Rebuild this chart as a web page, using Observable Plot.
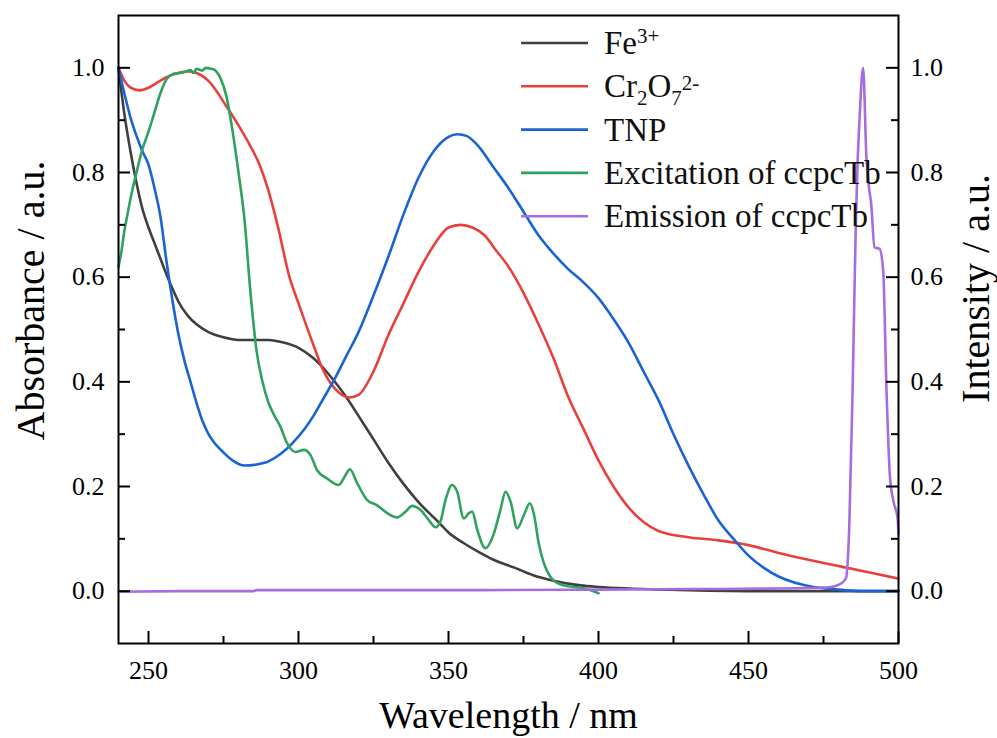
<!DOCTYPE html>
<html><head><meta charset="utf-8">
<script src="https://cdn.jsdelivr.net/npm/d3@7"></script>
<script src="https://cdn.jsdelivr.net/npm/@observablehq/plot@0.6"></script>
<style>
body{margin:0;background:#fff}
svg text{font-family:"Liberation Serif","Times New Roman",serif !important;}
</style>
</head><body><div id="chart"></div>
<script>
// ---- data ----
const feWl  = [240,242,244,246,248,250,252,254,256,258,260,263,266,270,275,280,285,290,295,300,305,310,316,320,325,330,335,340,347,350,355,360,365,372,378,385,394,400,410,430,460,500];
const feAbs = [1.0,0.91,0.84,0.78,0.73,0.695,0.665,0.635,0.605,0.578,0.553,0.527,0.51,0.495,0.485,0.48,0.48,0.48,0.475,0.465,0.445,0.415,0.37,0.335,0.29,0.245,0.205,0.17,0.13,0.112,0.092,0.075,0.06,0.045,0.031,0.02,0.011,0.008,0.005,0.002,0.0,0.0];

const crWl  = [240,242,244,247,250,253,256,260,263,266,270,276,280,284,287,290,293,297,300,305,308,312,317,320,325,330,335,340,345,350,354,358,362,366,370,375,380,385,390,395,400,405,410,415,420,430,440,450,460,470,480,490,500];
const crAbs = [1.0,0.975,0.962,0.957,0.962,0.972,0.982,0.99,0.993,0.99,0.975,0.926,0.89,0.85,0.815,0.765,0.7,0.6,0.55,0.47,0.425,0.388,0.37,0.375,0.42,0.49,0.55,0.61,0.66,0.695,0.7,0.695,0.68,0.65,0.62,0.57,0.51,0.445,0.37,0.31,0.25,0.2,0.16,0.132,0.115,0.103,0.097,0.088,0.073,0.06,0.048,0.036,0.024];

const tnpWl  = [240,242,244,246,248,250,252,254,256,258,260,262,264,266,268,270,272,275,278,282,286,290,294,298,302,305,308,312,316,320,325,330,335,340,345,350,353,356,360,365,370,375,380,385,390,395,400,405,410,415,420,425,430,435,440,445,450,455,460,465,470,480,490,500];
const tnpAbs = [1.0,0.95,0.905,0.87,0.84,0.815,0.77,0.715,0.63,0.555,0.49,0.44,0.4,0.36,0.325,0.3,0.283,0.265,0.25,0.24,0.242,0.248,0.262,0.283,0.31,0.335,0.365,0.405,0.45,0.495,0.565,0.64,0.72,0.79,0.84,0.868,0.873,0.87,0.85,0.81,0.77,0.725,0.68,0.645,0.615,0.59,0.56,0.52,0.475,0.42,0.365,0.3,0.24,0.185,0.135,0.1,0.068,0.045,0.028,0.017,0.01,0.003,0.0,0.0];

const excWl  = [240,241,242,243,244,246,248,250,252,254,256,258,260,262,264,265,266,268,269,271,272,274,276,278,280,282,284,286,288,290,292,294,296,299,301.8,304,306.2,309.6,313.4,315.7,317.1,319.6,322.9,326.2,329.6,332.9,335.7,337.9,340.7,343.4,345.7,347.3,349,351.2,352.9,355.1,356.8,357.9,359.6,362.3,365.1,367.3,369,370.7,372.9,375.1,377.1,378.4,380.1,381.8,384,387.3,391.8,394,400];
const excInt = [0.62,0.65,0.69,0.72,0.75,0.8,0.845,0.878,0.915,0.952,0.978,0.988,0.99,0.992,0.996,0.99,0.998,0.995,1.0,0.998,0.996,0.98,0.945,0.88,0.8,0.71,0.57,0.46,0.4,0.36,0.335,0.314,0.285,0.266,0.27,0.26,0.231,0.215,0.203,0.222,0.233,0.206,0.174,0.164,0.149,0.141,0.152,0.163,0.155,0.136,0.122,0.133,0.174,0.203,0.19,0.139,0.149,0.152,0.117,0.082,0.11,0.155,0.19,0.171,0.12,0.145,0.168,0.149,0.091,0.053,0.027,0.013,0.008,0.007,-0.004];

const emWl  = [240,260,285,286,320,360,400,430,460,476,479,481,482.5,483.6,484.7,485.8,486.4,487,488.2,489.3,490.2,490.9,492,493.7,494.9,496,497.1,498.3,499.7,500];
const emInt = [-0.001,0.0,0.0,0.002,0.002,0.002,0.003,0.004,0.005,0.007,0.01,0.015,0.025,0.126,0.385,0.709,0.824,0.9,1.0,0.83,0.77,0.74,0.657,0.654,0.612,0.385,0.223,0.172,0.139,0.11];

const seriesNames  = ["Fe3+", "Cr2O72-", "TNP", "Excitation of ccpcTb", "Emission of ccpcTb"];
const seriesColors = ["#3f3f3f", "#e8413d", "#1a63d3", "#2ea25e", "#a66de0"];
const seriesWl  = [feWl, crWl, tnpWl, excWl, emWl];
const seriesVal = [feAbs, crAbs, tnpAbs, excInt, emInt];

const xMajor = [250,300,350,400,450,500];
const xMinor = [275,325,375,425,475];
const yMajor = [0,0.2,0.4,0.6,0.8,1.0];
const yMinor = [0.1,0.3,0.5,0.7,0.9];

// ---- build ----
const W = 997, H = 738;
const mL = 118, mR = 99, mT = 15, mB = 95;
const innerW = W - mL - mR, innerH = H - mT - mB;

const rows = [];
seriesNames.forEach((name, i) => {
  seriesWl[i].forEach((wl, j) => rows.push({series: name, wl, v: seriesVal[i][j]}));
});

const font = "Liberation Serif";

const marks = [];
seriesNames.forEach((name, i) => {
  marks.push(Plot.line(rows.filter(d => d.series === name), {
    x: "wl", y: "v", stroke: seriesColors[i], strokeWidth: 2.6, curve: "monotone-x"
  }));
});
marks.push(
  Plot.frame({stroke: "#000", strokeWidth: 2}),
  Plot.tickX(xMajor, {x: d => d, insetTop: innerH - 12, stroke: "#000", strokeWidth: 2}),
  Plot.tickX(xMinor, {x: d => d, insetTop: innerH - 7, stroke: "#000", strokeWidth: 2}),
  Plot.tickY(yMajor, {y: d => d, insetRight: innerW - 12, stroke: "#000", strokeWidth: 2}),
  Plot.tickY(yMinor, {y: d => d, insetRight: innerW - 7, stroke: "#000", strokeWidth: 2}),
  Plot.tickY(yMajor, {y: d => d, insetLeft: innerW - 12, stroke: "#000", strokeWidth: 2}),
  Plot.tickY(yMinor, {y: d => d, insetLeft: innerW - 7, stroke: "#000", strokeWidth: 2}),
  Plot.axisX(xMajor, {anchor: "bottom", tickSize: 0, tickPadding: 17, fontSize: 26, fontFamily: font, label: null, tickFormat: d => String(d)}),
  Plot.axisY(yMajor, {anchor: "left", tickSize: 0, tickPadding: 14, fontSize: 26, fontFamily: font, label: null, tickFormat: d3.format(".1f")}),
  Plot.axisY(yMajor, {anchor: "right", tickSize: 0, tickPadding: 12, fontSize: 26, fontFamily: font, label: null, tickFormat: d3.format(".1f")}),
  Plot.text(["Wavelength / nm"], {frameAnchor: "bottom", textAnchor: "middle", dy: 72, fontSize: 38, fontFamily: font, lineAnchor: "middle", fill: "#000"}),
  Plot.text(["Absorbance / a.u."], {frameAnchor: "left", textAnchor: "middle", dx: -87, dy: -29, rotate: -90, fontSize: 40, fontFamily: font, lineAnchor: "middle", fill: "#000"}),
  Plot.text(["Intensity / a.u."], {frameAnchor: "right", textAnchor: "middle", dx: 78, dy: -41, rotate: -90, fontSize: 40, fontFamily: font, lineAnchor: "middle", fill: "#000"})
);

const svg = Plot.plot({
  width: W, height: H,
  marginLeft: mL, marginRight: mR, marginTop: mT, marginBottom: mB,
  x: {domain: [240, 500], axis: null},
  y: {domain: [-0.1, 1.1], axis: null},
  style: {fontFamily: font, color: "#000", background: "#fff", overflow: "visible"},
  marks
});

// ---- legend ----
const lg = d3.select(svg).append("g").attr("font-family", font).attr("fill", "#111").attr("text-anchor", "start");
const legendY0 = 43, legendStep = 43.3;
seriesNames.forEach((name, i) => {
  const y = legendY0 + i * legendStep;
  lg.append("line").attr("x1", 521).attr("x2", 588).attr("y1", y).attr("y2", y)
    .attr("stroke", seriesColors[i]).attr("stroke-width", 2.6);
  const t = lg.append("text").attr("x", 604).attr("y", y + 11).attr("font-size", 33).attr("text-anchor", "start");
  if (i === 0) {
    t.append("tspan").text("Fe");
    t.append("tspan").attr("dy", -11).attr("font-size", 21).text("3+");
  } else if (i === 1) {
    t.append("tspan").text("Cr");
    t.append("tspan").attr("dy", 8).attr("font-size", 21).text("2");
    t.append("tspan").attr("dy", -8).text("O");
    t.append("tspan").attr("dy", 8).attr("font-size", 21).text("7");
    t.append("tspan").attr("dy", -15).attr("font-size", 21).text("2-");
  } else {
    t.text(name);
  }
});

document.getElementById("chart").appendChild(svg);
</script>
</body></html>
